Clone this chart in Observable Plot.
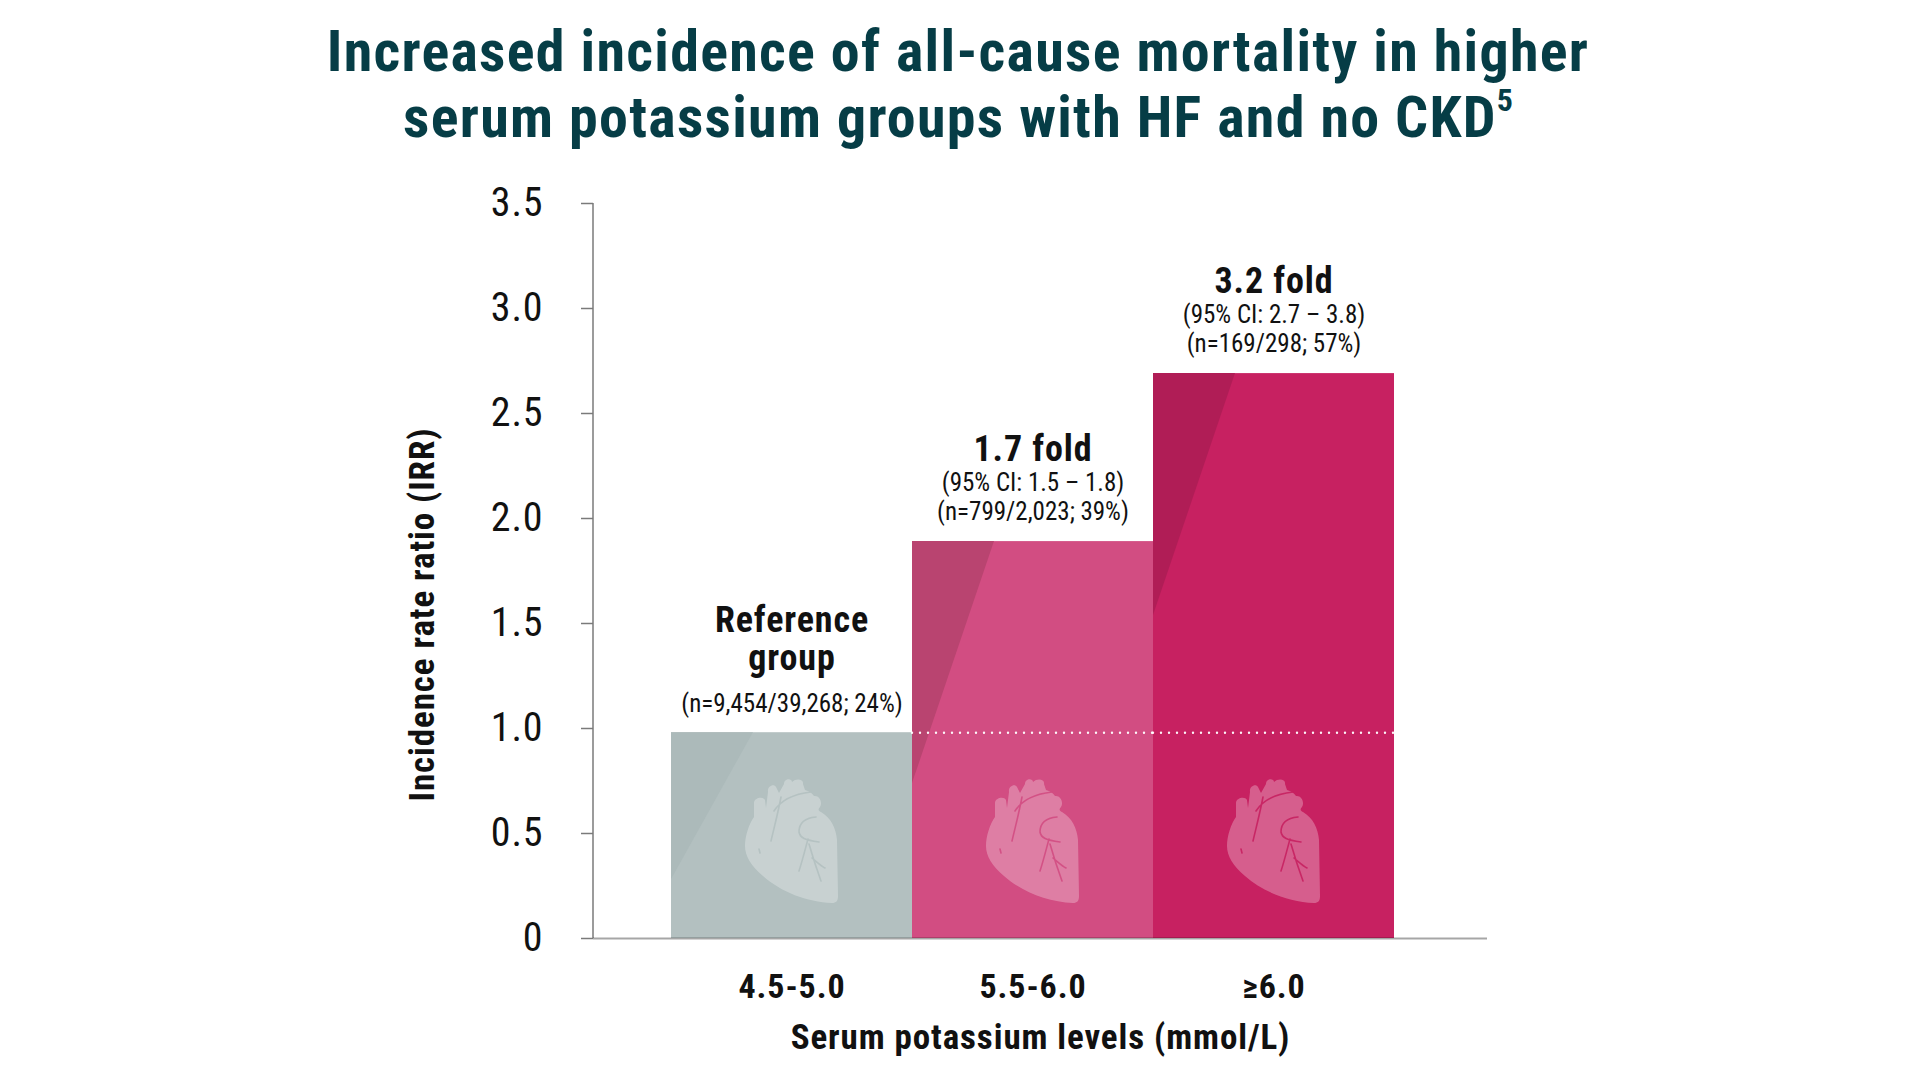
<!DOCTYPE html>
<html><head><meta charset="utf-8">
<script src="https://cdn.jsdelivr.net/npm/d3@7"></script>
<script src="https://cdn.jsdelivr.net/npm/@observablehq/plot@0.6"></script>
<style>
html,body{margin:0;padding:0;background:#fff;width:1920px;height:1080px;overflow:hidden;}
body{font-family:"Roboto Condensed","Liberation Sans Narrow","Arial Narrow","DejaVu Sans Condensed",sans-serif;}
#title{position:absolute;left:0;top:18px;width:1916px;text-align:center;font-weight:700;font-size:58px;line-height:66px;letter-spacing:1.3px;color:#063d46;}
#title sup{font-size:0.55em;line-height:0;vertical-align:0;position:relative;top:-0.8em;letter-spacing:0;}
#chart{position:absolute;left:0;top:160px;}
#chart svg text{letter-spacing:0.9px;}
#chart svg g[font-size="25"] text{letter-spacing:0;}
</style></head><body>
<div id="title">Increased incidence of all-cause mortality in higher<br>serum potassium groups with HF and no CKD<sup>5</sup></div>
<div id="chart"></div>
<script>
// ---- data ----
const categories = ["4.5-5.0", "5.5-6.0", "≥6.0"];
const irr = [0.98, 1.89, 2.69];
const headlines = [["Reference", "group"], ["1.7 fold"], ["3.2 fold"]];
const ciLabels = [null, "(95% CI: 1.5 – 1.8)", "(95% CI: 2.7 – 3.8)"];
const nLabels = ["(n=9,454/39,268; 24%)", "(n=799/2,023; 39%)", "(n=169/298; 57%)"];
const yTicks = [0, 0.5, 1, 1.5, 2, 2.5, 3, 3.5];
const yLabel = "Incidence rate ratio (IRR)";
const xLabel = "Serum potassium levels (mmol/L)";
const referenceValue = irr[0];

// ---- styles ----
const barColors = ["#b3c0c0", "#d24d82", "#c72161"];
const shadeColors = ["#acbaba", "#b94470", "#b01d56"];
const shadeWidth = 82;
const shadeDepth = [147, 242, 242];
const fontFamily = `"Roboto Condensed","Liberation Sans Narrow","Arial Narrow","DejaVu Sans Condensed",sans-serif`;
const boldSize = 36, smallSize = 25;

const bars = categories.map((c, i) => ({cat: c, v: irr[i]}));
const refLine = categories.slice(1).map(c => ({cat: c, v: referenceValue}));

// annotation rows (baseline offsets above bar tops, in px)
const rows = [];
categories.forEach((c, i) => {
  const hl = headlines[i];
  if (hl.length === 2) {
    rows.push({cat: c, v: irr[i], text: hl[0], bold: true, off: -101});
    rows.push({cat: c, v: irr[i], text: hl[1], bold: true, off: -62.7});
    rows.push({cat: c, v: irr[i], text: nLabels[i], bold: false, off: -20.7});
  } else {
    rows.push({cat: c, v: irr[i], text: hl[0], bold: true, off: -81});
    rows.push({cat: c, v: irr[i], text: ciLabels[i], bold: false, off: -51});
    rows.push({cat: c, v: irr[i], text: nLabels[i], bold: false, off: -22});
  }
});
const annotationMarks = rows.map(r => {
  const size = r.bold ? boldSize : smallSize;
  return Plot.text([r], {
    x: "cat", y: "v", text: "text",
    dy: r.off - 0.32 * size,
    fontSize: size, fontWeight: r.bold ? "bold" : "normal", fill: "#111"
  });
});

const heartPath = "M9 39 L9 25 C9 20 18 18 20 22 L21 30 L23 14 C22 8 29 5 31 9 L34 15 L39 6 C39 0 47 0 47 4 C51 0 59 1 58 6 L60 12 C64 13 67 15 69 18 C74 17 78 24 75 29 C73 31 73 33 76 34 C86 40 91 50 92 62 L93 118 C93 123 91 125 87 125 C62 124 36 114 18 98 C6 88 0 78 0 68 C0 58 4 46 9 39 Z";
const veinPath = "M36 19 C33 35 29 50 26 63 M29 33 C36 22 48 16 66 14 M71 39 C60 40 54 45 54 54 C55 60 60 62 74 64 M63 61 C60 72 57 84 54 93 M64 66 C68 80 72 92 76 103 M67 80 C72 84 76 88 80 90 M14 71 L15 75";

function decor(index, scales, values, dimensions) {
  const x = scales.x, y = scales.y;
  const bw = typeof x.bandwidth === "function" ? x.bandwidth() : x.bandwidth;
  const g = d3.create("svg:g");
  g.append("line")
    .attr("x1", dimensions.marginLeft).attr("x2", dimensions.marginLeft)
    .attr("y1", y(yTicks[yTicks.length - 1])).attr("y2", y(0))
    .attr("stroke", "#7a7a7a").attr("stroke-width", 1.5);
  categories.forEach((c, i) => {
    const x0 = x(c), y0 = y(irr[i]);
    g.append("path")
      .attr("d", `M${x0},${y0}H${x0 + shadeWidth}L${x0},${y0 + shadeDepth[i]}Z`)
      .attr("fill", shadeColors[i]);
    const h = g.append("g").attr("transform", `translate(${x0 + bw / 2 - 46.5},${y(0) - 160})`);
    h.append("path").attr("d", heartPath).attr("fill", "#fff").attr("fill-opacity", 0.28);
    h.append("path").attr("d", veinPath).attr("fill", "none")
      .attr("stroke", barColors[i]).attr("stroke-width", 1.6)
      .attr("stroke-linecap", "round").attr("opacity", 0.9);
  });
  return g.node();
}

const chart = Plot.plot({
  width: 1920,
  height: 920,
  marginTop: 43,
  marginBottom: 142,
  marginLeft: 593,
  marginRight: 433,
  style: {fontFamily, color: "#111", background: "transparent", overflow: "visible"},
  x: {domain: categories, range: [670, 1395], padding: 0, label: null},
  y: {domain: [0, 3.5], label: null},
  color: {domain: categories, range: barColors},
  marks: [
    Plot.barY(bars, {x: "cat", y: "v", fill: "cat", insetLeft: 0, insetRight: 0}),
    decor,
    Plot.tickY(refLine, {x: "cat", y: "v", stroke: "#fff", strokeWidth: 2.4, strokeDasharray: "0 8", strokeLinecap: "round", strokeOpacity: 0.95}),
    Plot.ruleY([0], {stroke: "#000", strokeOpacity: 0.35, strokeWidth: 2}),
    Plot.axisY(yTicks, {tickSize: 12, tickPadding: 38, fontSize: 40, tickFormat: d => d === 0 ? "0" : d.toFixed(1), label: null, stroke: "#7a7a7a", strokeWidth: 1.5}),
    Plot.axisX({tickSize: 0, tickPadding: 35, fontSize: 34, fontWeight: "bold", label: null}),
    ...annotationMarks,
    Plot.text([yLabel], {text: d => d, frameAnchor: "left", textAnchor: "middle", rotate: -90, dx: -171, dy: 43.5, fontSize: 35, fontWeight: "bold", fill: "#111"}),
    Plot.text([xLabel], {text: d => d, frameAnchor: "bottom", textAnchor: "middle", dy: 110, fontSize: 35, fontWeight: "bold", fill: "#111"})
  ]
});

document.getElementById("chart").appendChild(chart);
</script>
</body></html>
